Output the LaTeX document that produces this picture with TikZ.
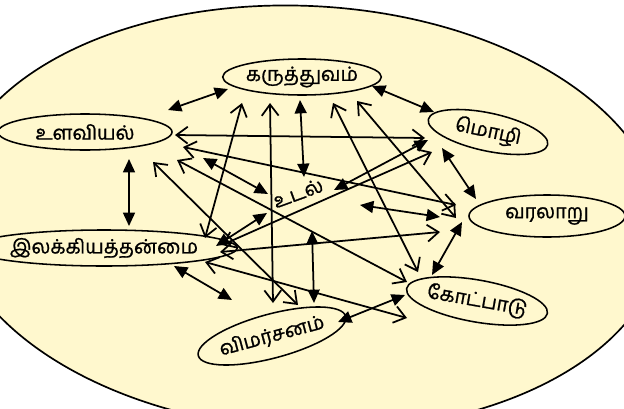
\documentclass[tikz,border=0pt]{standalone}
\usepackage{fontspec}
\usepackage{tikz}
\usetikzlibrary{arrows.meta,shapes.geometric}
\newfontfamily\tamil[Script=Tamil,FakeBold=1]{Hind Madurai}
\definecolor{paleyellow}{RGB}{255,248,206}

\begin{document}
\begin{tikzpicture}[x=0.025cm, y=-0.025cm,
        oval/.style={ellipse, draw, line width=1.1pt, fill=paleyellow, inner sep=0pt,
            font=\tamil\fontsize{14}{16}\selectfont},
        word/.style={font=\tamil\fontsize{14}{16}\selectfont},
        fboth/.style={line width=1.25pt, {Triangle[length=9.5pt,width=8.5pt]}-{Triangle[length=9.5pt,width=8.5pt]}},
        oboth/.style={line width=1.25pt, {Straight Barb[length=8pt,width=12pt]}-{Straight Barb[length=8pt,width=12pt]}}]
        \useasboundingbox (0,0) rectangle (624,408);

        % the big field
        \draw[line width=1.2pt, fill=paleyellow, rotate around={-3:(306,218)}] (306,218) ellipse [x radius=357, y radius=212];

        % the fields of study
        \node[oval, minimum width=3.5cm, minimum height=0.9cm] (kar) at (302,77) {கருத்துவம்};
        \node[oval, minimum width=4.35cm, minimum height=0.9cm] (ula) at (85,132) {உளவியல்\hspace{0.8cm}};
        \node[oval, minimum width=3.05cm, minimum height=0.95cm, rotate=-12] (mol) at (488,132) {மொழி};
        \node[oval, minimum width=3.9cm, minimum height=1.05cm] (var) at (547,216) {வரலாறு};
        \node[oval, minimum width=5.4cm, minimum height=0.9cm] (ila) at (104,248) {இலக்கியத்தன்மை\hspace{0.45cm}};
        \node[word, rotate=20] (udal) at (298,193) {உடல்};
        \node[oval, minimum width=3.5cm, minimum height=1.05cm, rotate=-10] (kot) at (477,301) {கோட்பாடு};
        \node[oval, minimum width=3.2cm, minimum height=1.1cm, rotate=15] (vim) at (272,336) {விமர்சனம்};

        % filled heads
        \foreach \a/\ax/\ay/\b/\bx/\by in {ula/83/-22/kar/-74/12, kar/70/9/mol/-54/-20,
                mol/-46/16/var/-71/-17, var/-85/6/kot/-45/-26, kot/-72/-6/vim/66/-14,
                ila/70/18/vim/-40/-36, ula/44/27/ila/25/-22, kar/-2/23/udal/6/-16,
                ula/118/26/udal/-30/1, udal/36/-3/mol/-60/8, ila/112/-2/udal/-31/20,
                udal/14/38/vim/42/-33, udal/62/12/var/-107/1} {
            \draw[fboth] ([shift={(\ax,\ay)}]\a.center) -- ([shift={(\bx,\by)}]\b.center);
        }

        % open heads
        \foreach \a/\ax/\ay/\b/\bx/\by in {ula/90/3/mol/-63/6, ula/98/15/var/-91/-11,
                ula/68/30/vim/26/-31, ula/92/28/kot/-70/-19, kar/-60/26/ila/101/-10,
                kar/-32/26/vim/1/-33, kar/31/26/kot/-59/-29, kar/55/24/var/-91/2,
                ila/101/14/kot/-70/17, ila/116/4/var/-107/16, ila/118/-3/mol/-56/20} {
            \draw[oboth] ([shift={(\ax,\ay)}]\a.center) -- ([shift={(\bx,\by)}]\b.center);
        }
    \end{tikzpicture}
\end{document}
